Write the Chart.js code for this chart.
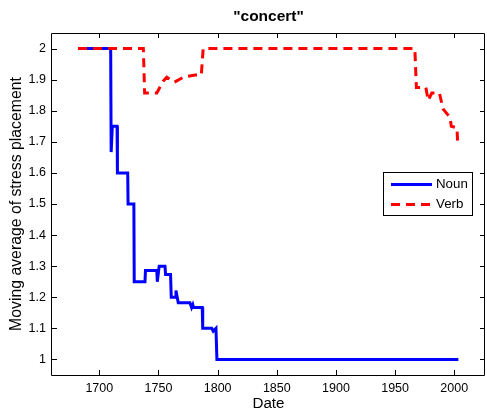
<!DOCTYPE html>
<html>
<head>
<meta charset="utf-8">
<title>concert</title>
<script src="https://cdn.jsdelivr.net/npm/chart.js@4/dist/chart.umd.min.js"></script>
<style>
  html, body { margin: 0; padding: 0; background: #fff; }
  canvas { display: block; }
</style>
</head>
<body>
<canvas id="chart" width="487" height="413"></canvas>
<script>
// moving average of stress placement for "concert", per year
const nounYears  = [1682, 1709.6, 1710, 1711, 1715, 1715.3, 1724, 1724.3, 1729.2, 1729.5, 1738.6, 1739, 1748.6, 1749, 1750.6, 1755.5, 1756, 1760.2, 1760.8, 1764, 1764.8, 1766.7, 1776.6, 1778, 1779, 1779.6, 1787, 1787.4, 1795, 1796.3, 1798.6, 1799.4, 2003.5];
const nounValues = [2, 2, 1.667, 1.75, 1.75, 1.6, 1.6, 1.5, 1.5, 1.25, 1.25, 1.286, 1.286, 1.25, 1.3, 1.3, 1.273, 1.273, 1.2, 1.2, 1.222, 1.182, 1.182, 1.167, 1.176, 1.167, 1.167, 1.1, 1.1, 1.091, 1.1, 1, 1];

const verbYears  = [1682, 1737.2, 1738.3, 1748.6, 1754, 1757, 1763.5, 1771, 1781, 1786.2, 1787.8, 1966.7, 1968, 1976, 1978, 1981, 1987.5, 1990.5, 1996.5, 1997.5, 2002.3, 2003];
const verbValues = [2, 2, 1.857, 1.857, 1.895, 1.908, 1.892, 1.908, 1.915, 1.915, 2, 2, 1.875, 1.875, 1.833, 1.857, 1.857, 1.806, 1.778, 1.75, 1.745, 1.688];

const xTicks = [1700, 1750, 1800, 1850, 1900, 1950, 2000];
const yTicks = [1, 1.1, 1.2, 1.3, 1.4, 1.5, 1.6, 1.7, 1.8, 1.9, 2];

const FONT = "'Liberation Sans', Arial, Helvetica, sans-serif";

function toPoints(xs, ys) {
    return xs.map((x, i) => ({ x: x, y: ys[i] }));
}

// inward tick marks on all four sides plus the closing box
const boxTicks = {
    id: 'boxTicks',
    afterDraw(chart) {
        const { ctx, chartArea: a, scales } = chart;
        const len = 5;
        ctx.save();
        ctx.strokeStyle = '#000';
        ctx.lineWidth = 1;
        ctx.beginPath();
        ctx.rect(Math.round(a.left) - 0.5, Math.round(a.top) + 0.5,
                 Math.round(a.right - a.left), Math.round(a.bottom - a.top));
        xTicks.forEach(v => {
            let px = Math.round(scales.x.getPixelForValue(v)) + 0.5;
            ctx.moveTo(px, a.bottom); ctx.lineTo(px, a.bottom - len);
            ctx.moveTo(px, a.top); ctx.lineTo(px, a.top + len);
        });
        yTicks.forEach(v => {
            let py = Math.round(scales.y.getPixelForValue(v)) + 0.5;
            ctx.moveTo(a.left, py); ctx.lineTo(a.left + len, py);
            ctx.moveTo(a.right, py); ctx.lineTo(a.right - len, py);
        });
        ctx.stroke();

        // title
        ctx.fillStyle = '#000';
        ctx.font = 'bold 15.5px ' + FONT;
        ctx.textAlign = 'center';
        ctx.textBaseline = 'middle';
        ctx.fillText('"concert"', (a.left + a.right) / 2, 17);
        ctx.restore();
    }
};

// boxed legend in the right half of the plot
const boxLegend = {
    id: 'boxLegend',
    afterDraw(chart) {
        const ctx = chart.ctx;
        const x0 = 383, y0 = 172, w = 89, h = 43;
        ctx.save();
        ctx.fillStyle = '#fff';
        ctx.fillRect(x0, y0, w, h);
        ctx.strokeStyle = '#000';
        ctx.lineWidth = 1;
        ctx.strokeRect(x0 + 0.5, y0 + 0.5, w, h);
        chart.data.datasets.forEach((ds, i) => {
            let y = 184.5 + i * 20;
            ctx.beginPath();
            ctx.strokeStyle = ds.borderColor;
            ctx.lineWidth = ds.borderWidth;
            ctx.setLineDash(ds.borderDash || []);
            ctx.moveTo(391, y);
            ctx.lineTo(432, y);
            ctx.stroke();
            ctx.setLineDash([]);
            ctx.fillStyle = '#000';
            ctx.font = '13.3px ' + FONT;
            ctx.textAlign = 'left';
            ctx.textBaseline = 'middle';
            ctx.fillText(ds.label, 436, y);
        });
        ctx.restore();
    }
};

new Chart(document.getElementById('chart'), {
    type: 'line',
    data: {
        datasets: [
            {
                label: 'Noun',
                data: toPoints(nounYears, nounValues),
                borderColor: '#0000ff',
                borderWidth: 3,
                pointRadius: 0,
                tension: 0,
                fill: false,
                order: 2
            },
            {
                label: 'Verb',
                data: toPoints(verbYears, verbValues),
                borderColor: '#ff0000',
                borderWidth: 3,
                borderDash: [9, 6],
                pointRadius: 0,
                tension: 0,
                fill: false,
                order: 1
            }
        ]
    },
    options: {
        responsive: false,
        animation: false,
        devicePixelRatio: 1,
        layout: { padding: { top: 33, right: 2, left: 0, bottom: 0 } },
        plugins: {
            legend: { display: false },
            title: { display: false },
            tooltip: { enabled: false }
        },
        scales: {
            x: {
                type: 'linear',
                min: 1660,
                max: 2026,
                afterBuildTicks: s => { s.ticks = xTicks.map(v => ({ value: v })); },
                afterFit: s => { s.height = 38; },
                grid: { display: false, drawTicks: false },
                border: { display: false },
                ticks: {
                    color: '#000',
                    font: { family: FONT, size: 12.5 },
                    padding: 6,
                    maxRotation: 0,
                    callback: v => String(v)
                },
                title: {
                    display: true,
                    text: 'Date',
                    color: '#000',
                    font: { family: FONT, size: 15.2 },
                    padding: { top: 0, bottom: 0 }
                }
            },
            y: {
                type: 'linear',
                min: 0.95,
                max: 2.05,
                afterBuildTicks: s => { s.ticks = yTicks.map(v => ({ value: v })); },
                afterFit: s => { s.width = 52; },
                grid: { display: false, drawTicks: false },
                border: { display: false },
                ticks: {
                    color: '#000',
                    font: { family: FONT, size: 12.5 },
                    padding: 6,
                    callback: v => String(Math.round(v * 10) / 10)
                },
                title: {
                    display: true,
                    text: 'Moving average of stress placement',
                    color: '#000',
                    font: { family: FONT, size: 15.8 },
                    padding: { top: 7, bottom: 0 }
                }
            }
        }
    },
    plugins: [boxTicks, boxLegend]
});
</script>
</body>
</html>
